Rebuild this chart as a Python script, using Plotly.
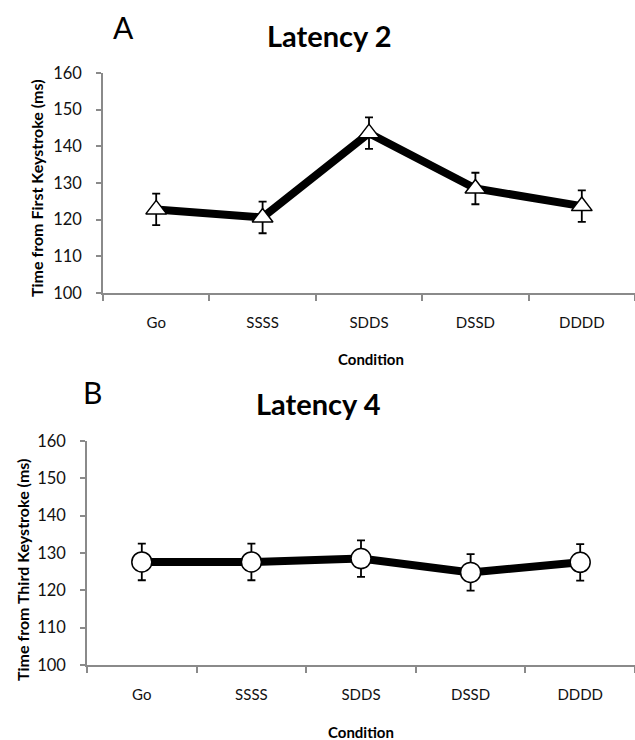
import plotly.graph_objects as go

conditions = ["Go", "SSSS", "SDDS", "DSSD", "DDDD"]
lat2_mean = [122.8, 120.6, 143.6, 128.5, 123.7]
lat2_err = [4.3, 4.3, 4.3, 4.3, 4.3]
lat4_mean = [127.6, 127.6, 128.5, 124.8, 127.5]
lat4_err = [4.9, 4.9, 4.9, 4.9, 4.9]
y_ticks = [100, 110, 120, 130, 140, 150, 160]

W, H = 635, 740
FONT = "Lato, Open Sans, sans-serif"

fig = go.Figure()

fig.add_trace(go.Scatter(
    x=conditions, y=lat2_mean, mode="lines+markers",
    line=dict(color="black", width=8),
    marker=dict(symbol="triangle-up", size=18, color="white",
                line=dict(color="black", width=1.5)),
    error_y=dict(type="data", array=lat2_err, color="black", thickness=1.8, width=4),
    xaxis="x", yaxis="y", showlegend=False,
))
fig.add_trace(go.Scatter(
    x=conditions, y=lat4_mean, mode="lines+markers",
    line=dict(color="black", width=8),
    marker=dict(symbol="circle", size=20, color="white",
                line=dict(color="black", width=1.5)),
    error_y=dict(type="data", array=lat4_err, color="black", thickness=1.8, width=4),
    xaxis="x2", yaxis="y2", showlegend=False,
))

def xax(domain, anchor):
    return dict(domain=domain, anchor=anchor, type="category",
                categoryorder="array", categoryarray=conditions,
                range=[-0.5, 4.5], showgrid=False, zeroline=False,
                showline=True, linecolor="#8a8a8a", linewidth=1.5,
                ticks="outside", tickson="boundaries", ticklen=6,
                tickcolor="#8a8a8a", tickwidth=1.5,
                ticklabelstandoff=15, automargin=False,
                tickfont=dict(family=FONT, size=15, color="#111"))

def yax(domain, anchor):
    return dict(domain=domain, anchor=anchor, range=[100, 160],
                tickvals=y_ticks, showgrid=False, zeroline=False,
                showline=True, linecolor="#8a8a8a", linewidth=1.5,
                ticks="outside", ticklen=5, tickcolor="#8a8a8a", tickwidth=1.5,
                ticklabelstandoff=11, automargin=False,
                tickfont=dict(family=FONT, size=16.5, color="#111"))

fig.update_layout(
    width=W, height=H, margin=dict(l=0, r=0, t=0, b=0, pad=0),
    paper_bgcolor="white", plot_bgcolor="white",
    xaxis=xax([103 / W, 1.0], "y"),
    yaxis=yax([1 - 293 / H, 1 - 73 / H], "x"),
    xaxis2=xax([87 / W, 1.0], "y2"),
    yaxis2=yax([1 - 665 / H, 1 - 441 / H], "x2"),
)

def ann(text, x, y, size, bold=False, angle=0):
    t = f"<b>{text}</b>" if bold else text
    fig.add_annotation(text=t, x=x / W, y=1 - y / H, xref="paper", yref="paper",
                       showarrow=False, textangle=angle, xanchor="center", yanchor="middle",
                       font=dict(family=FONT, size=size, color="black"))

ann("A", 123, 27, 30)
ann("Latency 2", 329, 36, 29, bold=True)
ann("Time from First Keystroke (ms)", 36, 188, 16, bold=True, angle=-90)
ann("Condition", 371, 359, 15, bold=True)

ann("B", 92, 392, 30)
ann("Latency 4", 318, 403, 29, bold=True)
ann("Time from Third Keystroke (ms)", 22, 570, 16, bold=True, angle=-90)
ann("Condition", 361, 732, 15, bold=True)

fig.write_html(
    "out.html",
    config={"displayModeBar": False},
    post_script="document.body.style.margin='0';document.body.style.overflow='hidden';",
)
